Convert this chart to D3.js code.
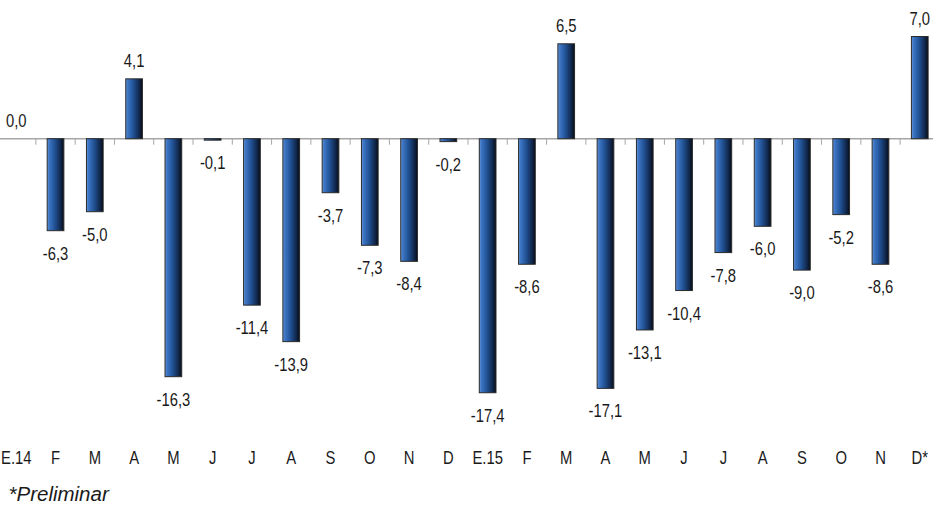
<!DOCTYPE html>
<html>
<head>
<meta charset="utf-8">
<script src="https://cdn.jsdelivr.net/npm/d3@7"></script>
<style>
  html, body { margin: 0; padding: 0; background: #fff; }
  svg { display: block; }
  text { font-family: "Liberation Sans", Arial, sans-serif; fill: #1a1a1a; }
</style>
</head>
<body>
<svg id="chart" width="933" height="506"></svg>
<script>
// Monthly variation, Jan 2014 – Dec 2015 (last month preliminary)
const months = ["E.14","F","M","A","M","J","J","A","S","O","N","D",
                "E.15","F","M","A","M","J","J","A","S","O","N","D*"];
const values = [0.0, -6.3, -5.0, 4.1, -16.3, -0.1, -11.4, -13.9, -3.7, -7.3, -8.4, -0.2,
                -17.4, -8.6, 6.5, -17.1, -13.1, -10.4, -7.8, -6.0, -9.0, -5.2, -8.6, 7.0];
const footnote = "*Preliminar";

const W = 933, H = 506;
const svg = d3.select("#chart");
const ids = months.map((m, i) => i);

const x = d3.scaleBand()
  .domain(ids)
  .range([-3.4, 939.4])
  .paddingInner(0.575)
  .paddingOuter(0.2875);

const y = d3.scaleLinear().domain([-20, 10]).range([430.7, -7.3]);

const fmt = v => d3.format(".1f")(v).replace(".", ",").replace("−", "-");

// bar fill: lit from the left, dark on the right
const defs = svg.append("defs");
const grad = defs.append("linearGradient").attr("id", "barGrad")
  .attr("x1", "0").attr("x2", "1").attr("y1", "0").attr("y2", "0");
[[0, "#6a9ad8"], [0.12, "#3d76c6"], [0.45, "#215295"], [0.8, "#11284d"], [1, "#050c18"]]
  .forEach(([o, c]) => grad.append("stop").attr("offset", o).attr("stop-color", c));

// zero line with ticks between months
const y0 = y(0);
svg.append("line")
  .attr("x1", 0).attr("x2", W).attr("y1", y0).attr("y2", y0)
  .attr("stroke", "#a6a6a6").attr("stroke-width", 1.5);

const step = x.step();
const bounds = ids.slice(1).map(i => x(i) + x.bandwidth() / 2 - step / 2);
svg.append("g").selectAll("line").data(bounds).join("line")
  .attr("x1", d => d).attr("x2", d => d)
  .attr("y1", y0).attr("y2", y0 + 6)
  .attr("stroke", "#a6a6a6").attr("stroke-width", 1);

// bars
svg.append("g").selectAll("rect").data(ids).join("rect")
  .attr("x", i => x(i))
  .attr("width", x.bandwidth())
  .attr("y", i => Math.min(y(values[i]), y0))
  .attr("height", i => Math.abs(y(values[i]) - y0))
  .attr("fill", "url(#barGrad)")
  .attr("stroke", "#2a2a2a")
  .attr("stroke-width", 1);

// value labels (narrow face)
const sx = 0.8;
svg.append("g").selectAll("text").data(ids).join("text")
  .attr("transform", i => {
    const cx = x(i) + x.bandwidth() / 2;
    const v = values[i];
    const by = v >= 0 ? y(v) - 12 : y(v) + 29;
    return `translate(${cx},${by}) scale(${sx},1)`;
  })
  .attr("text-anchor", "middle")
  .attr("font-size", 18.5)
  .text(i => fmt(values[i]));

// month labels
svg.append("g").selectAll("text").data(ids).join("text")
  .attr("transform", i => `translate(${x(i) + x.bandwidth() / 2},463.5) scale(${sx},1)`)
  .attr("text-anchor", "middle")
  .attr("font-size", 18.5)
  .text(i => months[i]);

// footnote
svg.append("text")
  .attr("x", 8.5).attr("y", 501)
  .attr("font-size", 20.5)
  .attr("font-style", "italic")
  .text(footnote);
</script>
</body>
</html>
